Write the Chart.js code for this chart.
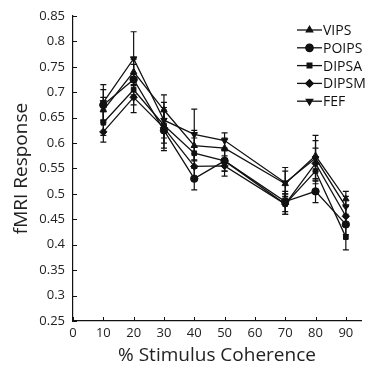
<!DOCTYPE html>
<html>
<head>
<meta charset="utf-8">
<script src="https://cdn.jsdelivr.net/npm/chart.js@4/dist/chart.umd.min.js"></script>
<style>
  html, body { margin: 0; padding: 0; background: #fff; }
  #wrap { width: 366px; height: 373px; }
</style>
</head>
<body>
<div id="wrap"><canvas id="c"></canvas></div>
<script>
// coherence levels (%)
var coherence = [10, 20, 30, 40, 50, 70, 80, 90];
var xTicks = [0, 10, 20, 30, 40, 50, 60, 70, 80, 90];

// mean responses per region
var vips  = [0.665, 0.740, 0.665, 0.595, 0.590, 0.520, 0.575, 0.490];
var poips = [0.675, 0.725, 0.625, 0.530, 0.565, 0.485, 0.505, 0.440];
var dipsa = [0.640, 0.705, 0.635, 0.580, 0.565, 0.480, 0.545, 0.415];
var dipsm = [0.622, 0.690, 0.630, 0.554, 0.555, 0.480, 0.560, 0.456];
var fef   = [0.680, 0.766, 0.645, 0.617, 0.605, 0.522, 0.570, 0.475];

// standard errors
var vipsErr  = [0.025, 0.025, 0.030, 0.030, 0.020, 0.025, 0.030, 0.015];
var poipsErr = [0.030, 0.030, 0.040, 0.022, 0.020, 0.020, 0.022, 0.020];
var dipsaErr = [0.025, 0.030, 0.035, 0.030, 0.020, 0.020, 0.025, 0.025];
var dipsmErr = [0.020, 0.030, 0.040, 0.025, 0.020, 0.020, 0.030, 0.020];
var fefErr   = [0.035, 0.053, 0.035, 0.050, 0.015, 0.030, 0.045, 0.020];

var yTicks = [0.25, 0.85, 0.05]; // min, max, step
var FONT = '"Open Sans", "DejaVu Sans", sans-serif';

function series(label, ys, errs, style, rot) {
    return {
        label: label,
        data: coherence.map(function (x, i) { return { x: x, y: ys[i] }; }),
        errors: errs,
        borderColor: '#111',
        backgroundColor: '#111',
        borderWidth: 1.3,
        pointStyle: style,
        pointRotation: rot || 0,
        pointRadius: style === 'rect' ? 3.3 : 3.7,
        pointBorderWidth: 1,
        tension: 0
    };
}

// error bars drawn through the chart's own scales
var errorBars = {
    id: 'errorBars',
    beforeDatasetsDraw: function (chart) {
        var ctx = chart.ctx, xs = chart.scales.x, ys = chart.scales.y;
        ctx.save();
        ctx.strokeStyle = '#111';
        ctx.lineWidth = 1.2;
        chart.data.datasets.forEach(function (ds) {
            ds.data.forEach(function (p, i) {
                var e = ds.errors[i];
                var px = xs.getPixelForValue(p.x);
                var top = ys.getPixelForValue(p.y + e);
                var bot = ys.getPixelForValue(p.y - e);
                ctx.beginPath();
                ctx.moveTo(px, top); ctx.lineTo(px, bot);
                ctx.moveTo(px - 3, top); ctx.lineTo(px + 3, top);
                ctx.moveTo(px - 3, bot); ctx.lineTo(px + 3, bot);
                ctx.stroke();
            });
        });
        ctx.restore();
    }
};

// inward ticks on left and bottom axes
var innerTicks = {
    id: 'innerTicks',
    afterDraw: function (chart) {
        var ctx = chart.ctx, xs = chart.scales.x, ys = chart.scales.y;
        var a = chart.chartArea;
        ctx.save();
        ctx.strokeStyle = '#111';
        ctx.lineWidth = 1;
        ctx.beginPath();
        xs.ticks.forEach(function (t) {
            var px = Math.round(xs.getPixelForValue(t.value)) + 0.5;
            ctx.moveTo(px, a.bottom); ctx.lineTo(px, a.bottom - 4);
        });
        ys.ticks.forEach(function (t) {
            var py = Math.round(ys.getPixelForValue(t.value)) + 0.5;
            ctx.moveTo(a.left, py); ctx.lineTo(a.left + 4, py);
        });
        ctx.stroke();
        ctx.restore();
    }
};

// legend with line + marker sample
var lineLegend = {
    id: 'lineLegend',
    afterDraw: function (chart) {
        var ctx = chart.ctx;
        ctx.save();
        ctx.font = '14px ' + FONT;
        ctx.textBaseline = 'middle';
        ctx.fillStyle = '#111';
        chart.data.datasets.forEach(function (ds, i) {
            var y = 30 + i * 17.8;
            ctx.strokeStyle = '#111';
            ctx.lineWidth = 1.3;
            ctx.beginPath();
            ctx.moveTo(297, y); ctx.lineTo(322, y);
            ctx.stroke();
            Chart.helpers.drawPoint(ctx, {
                pointStyle: ds.pointStyle,
                rotation: ds.pointRotation,
                radius: ds.pointRadius,
                borderWidth: 1
            }, 309.5, y);
            ctx.fillStyle = '#111';
            ctx.fill();
            ctx.fillText(ds.label, 323, y + 1);
        });
        ctx.restore();
    }
};

new Chart(document.getElementById('c').getContext('2d'), {
    type: 'line',
    data: {
        datasets: [
            series('VIPS', vips, vipsErr, 'triangle'),
            series('POIPS', poips, poipsErr, 'circle'),
            series('DIPSA', dipsa, dipsaErr, 'rect'),
            series('DIPSM', dipsm, dipsmErr, 'rectRot'),
            series('FEF', fef, fefErr, 'triangle', 180)
        ]
    },
    options: {
        responsive: true,
        maintainAspectRatio: false,
        animation: false,
        layout: { padding: { left: 0, right: 1, top: 16, bottom: 0 } },
        plugins: {
            legend: { display: false },
            tooltip: { enabled: false }
        },
        scales: {
            x: {
                type: 'linear',
                min: 0,
                max: 95,
                afterBuildTicks: function (scale) {
                    scale.ticks = xTicks.map(function (v) { return { value: v }; });
                },
                afterFit: function (scale) { scale.height = 52; },
                ticks: { color: '#222', padding: 4, maxRotation: 0, autoSkip: false,
                         font: { family: FONT, size: 13 } },
                grid: { display: false, drawTicks: false },
                border: { display: true, color: '#111', width: 1.2 },
                title: { display: true, text: '% Stimulus Coherence', color: '#222',
                         font: { family: FONT, size: 19 }, padding: { top: 0, bottom: 6 } }
            },
            y: {
                min: yTicks[0],
                max: yTicks[1],
                afterFit: function (scale) { scale.width = 73; },
                ticks: {
                    stepSize: yTicks[2],
                    color: '#222',
                    padding: 8,
                    autoSkip: false,
                    font: { family: FONT, size: 13 },
                    callback: function (v) { return String(parseFloat(v.toFixed(2))); }
                },
                grid: { display: false, drawTicks: false },
                border: { display: true, color: '#111', width: 1.2 },
                title: { display: true, text: 'fMRI Response', color: '#222',
                         font: { family: FONT, size: 19 }, padding: { top: 10, bottom: 0 } }
            }
        }
    },
    plugins: [errorBars, innerTicks, lineLegend]
});
</script>
</body>
</html>
